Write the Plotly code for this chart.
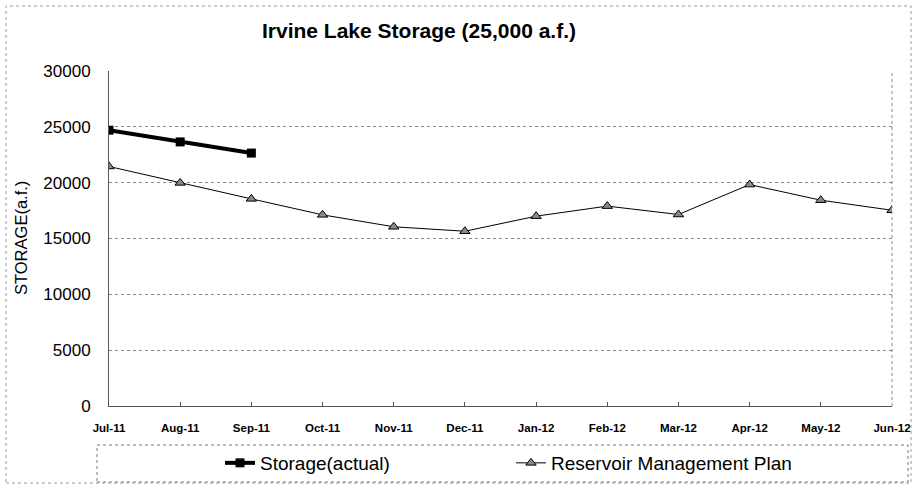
import plotly.graph_objects as go

months = ["Jul-11", "Aug-11", "Sep-11", "Oct-11", "Nov-11", "Dec-11",
          "Jan-12", "Feb-12", "Mar-12", "Apr-12", "May-12", "Jun-12"]
storage_actual = [24700, 23650, 22650]
plan = [21450, 19980, 18550, 17120, 16050, 15650, 17000, 17900, 17150, 19830, 18430, 17530]
y_ticks = [0, 5000, 10000, 15000, 20000, 25000, 30000]

FONT = "Arial, Liberation Sans, sans-serif"
W, H = 915, 485
L, R, T, B = 109, 23, 71, 79
pw, ph = W - L - R, H - T - B

def px_x(x):
    return (x - L) / pw

def px_y(y):
    return (H - B - y) / ph

fig = go.Figure()
fig.add_trace(go.Scatter(
    x=months[:len(storage_actual)], y=storage_actual, name="Storage(actual)",
    mode="lines+markers",
    line=dict(color="black", width=4),
    marker=dict(symbol="square", size=9, color="black"),
))
fig.add_trace(go.Scatter(
    x=months, y=plan, name="Reservoir Management Plan",
    mode="lines+markers",
    line=dict(color="black", width=1),
    marker=dict(symbol="triangle-up", size=9, color="#8a8a8a",
                line=dict(color="black", width=1)),
))

fig.update_layout(
    width=W, height=H,
    margin=dict(l=L, r=R, t=T, b=B, pad=0, autoexpand=False),
    paper_bgcolor="white", plot_bgcolor="white",
    font=dict(family=FONT, color="black"),
    title=dict(text="<b>Irvine Lake Storage (25,000 a.f.)</b>",
               x=419 / W, xanchor="center", xref="container",
               y=1 - 31 / H, yanchor="middle", yref="container",
               font=dict(size=21, family=FONT, color="black")),
    showlegend=True,
    legend=dict(orientation="h", x=220 / W, xanchor="left", xref="container",
                y=1 - 463 / H, yanchor="middle", yref="container",
                font=dict(size=19, family=FONT, color="black"),
                entrywidth=246, entrywidthmode="pixels",
                bgcolor="rgba(0,0,0,0)", itemwidth=30),
)

fig.update_xaxes(
    type="category", categoryorder="array", categoryarray=months,
    range=[0, len(months) - 1],
    showgrid=False, showline=True, linecolor="#555", linewidth=1,
    ticks="inside", ticklen=4, tickcolor="#555",
    tickfont=dict(size=11.5, family=FONT, color="black"),
    ticklabelstandoff=11, zeroline=False,
    tickprefix="<b>", ticksuffix="</b>",
)
fig.update_yaxes(
    range=[0, 30000], tickvals=y_ticks, ticktext=[str(v) for v in y_ticks],
    showgrid=True, gridcolor="#888", griddash="dot", gridwidth=1,
    showline=True, linecolor="#555", linewidth=1,
    ticks="", tickfont=dict(size=17, family=FONT, color="black"),
    ticklabelstandoff=14, zeroline=False,
)

# y axis title
fig.add_annotation(text="STORAGE(a.f.)", textangle=-90, xref="paper", yref="paper",
                   x=px_x(21), y=px_y(238), xanchor="center", yanchor="middle",
                   showarrow=False,
                   font=dict(size=16.5, family=FONT, color="black"))

# right border of plot area
fig.add_shape(type="line", xref="paper", yref="paper", x0=1, x1=1, y0=0, y1=1,
              line=dict(color="#888", width=1, dash="dot"))
# legend box
fig.add_shape(type="rect", xref="paper", yref="paper",
              x0=px_x(97), x1=px_x(908), y0=px_y(482), y1=px_y(445),
              line=dict(color="#777", width=1, dash="dot"))
# outer chart border
fig.add_shape(type="rect", xref="paper", yref="paper",
              x0=px_x(6), x1=px_x(911), y0=px_y(483), y1=px_y(6),
              line=dict(color="#999", width=1, dash="dot"))

fig.write_html("out.html", config={"displayModeBar": False},
               post_script="document.body.style.margin='0';document.body.style.padding='0';")
